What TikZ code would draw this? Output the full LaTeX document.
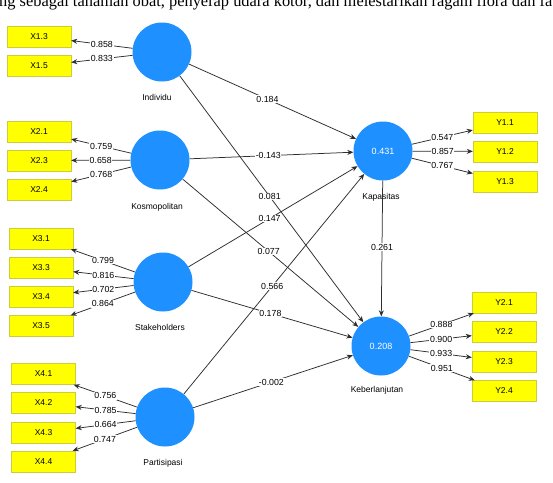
\documentclass[tikz,border=0pt]{standalone}
\usepackage{fontspec}
\setmainfont{Liberation Sans}
\newfontfamily\serifface{Liberation Serif}
\usetikzlibrary{arrows.meta}
\definecolor{plsblue}{RGB}{30,144,255}
\definecolor{boxyellow}{RGB}{255,255,0}
\definecolor{boxedge}{RGB}{205,205,60}
\definecolor{linegray}{RGB}{45,45,45}
\begin{document}
\begin{tikzpicture}[x=1pt,y=-1pt,
  lv/.style={circle,fill=plsblue,draw=none,minimum size=59pt,inner sep=0pt,text=white,font=\fontsize{9}{10}\selectfont},
  lvname/.style={font=\fontsize{8.5}{10}\selectfont,inner sep=0pt},
  ind/.style={rectangle,fill=boxyellow,draw=boxedge,line width=0.4pt,minimum width=64pt,minimum height=21pt,inner sep=0pt,font=\fontsize{8.5}{10}\selectfont},
  lbl/.style={fill=white,inner sep=0.7pt,font=\fontsize{8.8}{10}\selectfont},
  arr/.style={draw=linegray,line width=0.75pt,-{Stealth[length=6pt,width=5pt]}}]
\useasboundingbox (0,0) rectangle (553,482);
\fill[white] (0,0) rectangle (553,482);
\node[anchor=base west,inner sep=0pt,font=\serifface\fontsize{16.4}{18}\selectfont] (toptext) at (-1,6.8) {ng sebagai tanaman obat, penyerap udara kotor, dan melestarikan ragam flora dan fauna};

% latent variables
\node[lv] (ind) at (162,52) {};
\node[lv] (kos) at (160,160) {};
\node[lv] (sta) at (163,282) {};
\node[lv] (par) at (165,417) {};
\node[lv] (kap) at (383,151) {0.431};
\node[lv] (keb) at (381,346) {0.208};
\node[lvname] (indn) at (157,97) {Individu};
\node[lvname] (kosn) at (157,207) {Kosmopolitan};
\node[lvname] (stan) at (160,327) {Stakeholders};
\node[lvname] (parn) at (163,463) {Partisipasi};
\node[lvname] (kapn) at (381,197) {Kapasitas};
\node[lvname] (kebn) at (377,390) {Keberlanjutan};

% indicators
\node[ind] (x13) at (39,36.5) {X1.3};
\node[ind] (x15) at (39,66) {X1.5};
\node[ind] (x21) at (39,131.5) {X2.1};
\node[ind] (x23) at (39,160.5) {X2.3};
\node[ind] (x24) at (39,189.5) {X2.4};
\node[ind] (x31) at (41,238.5) {X3.1};
\node[ind] (x33) at (41,268) {X3.3};
\node[ind] (x34) at (41,296.5) {X3.4};
\node[ind] (x35) at (41,326) {X3.5};
\node[ind] (x41) at (43.5,374) {X4.1};
\node[ind] (x42) at (43.5,403) {X4.2};
\node[ind] (x43) at (43.5,432.5) {X4.3};
\node[ind] (x44) at (43.5,461.5) {X4.4};
\node[ind] (y11) at (505,122.5) {Y1.1};
\node[ind] (y12) at (505,151.5) {Y1.2};
\node[ind] (y13) at (505,181.5) {Y1.3};
\node[ind] (y21) at (504,302.5) {Y2.1};
\node[ind] (y22) at (504,332) {Y2.2};
\node[ind] (y23) at (504,361.5) {Y2.3};
\node[ind] (y24) at (504,391) {Y2.4};

% structural paths
\draw[arr] (ind) -- node[lbl,pos=0.47] {0.184} (kap);
\draw[arr] (kos) -- node[lbl,pos=0.48] {-0.143} (kap);
\draw[arr] (ind) -- node[lbl,pos=0.49] {0.081} (keb);
\draw[arr] (sta) -- node[lbl,pos=0.48] {0.147} (kap);
\draw[arr] (kos) -- node[lbl,pos=0.49] {0.077} (keb);
\draw[arr] (par) -- node[lbl,pos=0.49] {0.566} (kap);
\draw[arr] (sta) -- node[lbl,pos=0.49] {0.178} (keb);
\draw[arr] (par) -- node[lbl,pos=0.49] {-0.002} (keb);
\draw[arr] (kap) -- node[lbl,pos=0.49] {0.261} (keb);

% outer loadings
\draw[arr] (ind) -- node[lbl] {0.858} (x13);
\draw[arr] (ind) -- node[lbl] {0.833} (x15);
\draw[arr] (kos) -- node[lbl] {0.759} (x21);
\draw[arr] (kos) -- node[lbl] {0.658} (x23);
\draw[arr] (kos) -- node[lbl] {0.768} (x24);
\draw[arr] (sta) -- node[lbl] {0.799} (x31);
\draw[arr] (sta) -- node[lbl] {0.816} (x33);
\draw[arr] (sta) -- node[lbl] {0.702} (x34);
\draw[arr] (sta) -- node[lbl] {0.864} (x35);
\draw[arr] (par) -- node[lbl] {0.756} (x41);
\draw[arr] (par) -- node[lbl] {0.785} (x42);
\draw[arr] (par) -- node[lbl] {0.664} (x43);
\draw[arr] (par) -- node[lbl] {0.747} (x44);
\draw[arr] (kap) -- node[lbl] {0.547} (y11);
\draw[arr] (kap) -- node[lbl] {0.857} (y12);
\draw[arr] (kap) -- node[lbl] {0.767} (y13);
\draw[arr] (keb) -- node[lbl] {0.888} (y21);
\draw[arr] (keb) -- node[lbl] {0.900} (y22);
\draw[arr] (keb) -- node[lbl] {0.933} (y23);
\draw[arr] (keb) -- node[lbl] {0.951} (y24);
\end{tikzpicture}
\end{document}
